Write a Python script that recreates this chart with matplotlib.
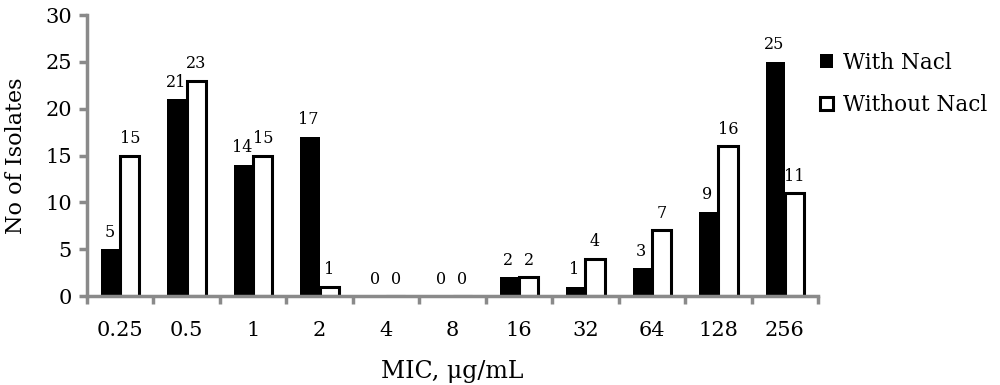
import matplotlib.pyplot as plt
import numpy as np

plt.rcParams['font.family'] = ['DejaVu Serif']

# MIC categories and isolate counts
mic_labels = ['0.25', '0.5', '1', '2', '4', '8', '16', '32', '64', '128', '256']
with_nacl = [5, 21, 14, 17, 0, 0, 2, 1, 3, 9, 25]
without_nacl = [15, 23, 15, 1, 0, 0, 2, 4, 7, 16, 11]


def main():
    fig = plt.figure(figsize=(10, 3.85), dpi=100)
    ax = fig.add_axes([0.087, 0.231, 0.731, 0.730])

    x = np.arange(len(mic_labels))
    w = 0.29
    b1 = ax.bar(x - w / 2, with_nacl, w, color='black', edgecolor='black',
                linewidth=0, label='With Nacl')
    b2 = ax.bar(x + w / 2, without_nacl, w, color='white', edgecolor='black',
                linewidth=2.2, label='Without Nacl')

    # value labels above bars
    for xi, v in zip(x - w / 2, with_nacl):
        ax.text(xi - 0.02, v + 0.9, str(v), ha='center', va='bottom', fontsize=11.5)
    for xi, v in zip(x + w / 2, without_nacl):
        ax.text(xi, v + 0.9, str(v), ha='center', va='bottom', fontsize=11.5)

    ax.set_xlim(-0.5, len(mic_labels) - 0.5)
    ax.set_ylim(0, 30)
    ax.set_yticks(range(0, 31, 5))
    ax.set_xticks(x)
    ax.set_xticklabels(mic_labels)
    ax.set_xticks(np.arange(-0.5, len(mic_labels), 1), minor=True)

    grey = '#8a8a8a'
    for s in ['top', 'right']:
        ax.spines[s].set_visible(False)
    for s in ['left', 'bottom']:
        ax.spines[s].set_color(grey)
        ax.spines[s].set_linewidth(2.5)
    ax.tick_params(axis='y', colors=grey, labelcolor='black', width=2.5,
                   length=6, labelsize=15, pad=5)
    ax.tick_params(axis='x', which='major', length=0, labelsize=15, pad=18)
    ax.tick_params(axis='x', which='minor', colors=grey, width=2.5, length=6)

    ax.set_ylabel('No of Isolates', fontsize=16, labelpad=13)
    ax.set_xlabel('MIC, μg/mL', fontsize=17, labelpad=14)

    ax.legend(handles=[b1, b2], loc='upper left', bbox_to_anchor=(1.003, 0.87),
              frameon=False, fontsize=15.5, handlelength=0.6, handleheight=0.6,
              handletextpad=0.45, labelspacing=0.95, borderpad=0,
              borderaxespad=0)

    fig.savefig('out.png', dpi=100)


if __name__ == "__main__":
    main()
